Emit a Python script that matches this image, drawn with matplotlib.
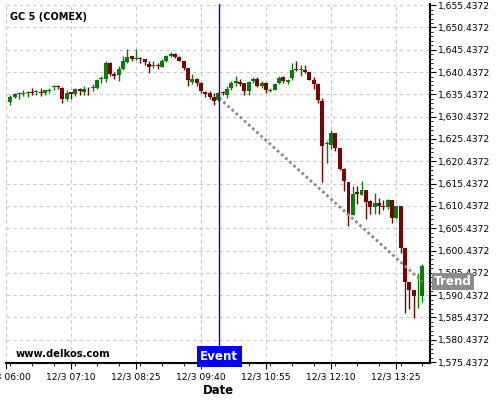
import matplotlib
matplotlib.use("Agg")
import matplotlib.pyplot as plt
from matplotlib.ticker import FixedLocator, MultipleLocator, FuncFormatter
import matplotlib.transforms as mtransforms

title = "GC 5 (COMEX)"
watermark = "www.delkos.com"

opens = [1633.8, 1634.9, 1635.6, 1635.6, 1635.7, 1636.0, 1635.9, 1636.0, 1635.7, 1636.1,
         1637.0, 1637.2, 1636.9, 1634.5, 1636.0, 1635.6, 1636.7, 1636.0, 1636.9, 1636.9,
         1636.9, 1638.8, 1638.8, 1642.5, 1639.9, 1639.7, 1641.2, 1642.7, 1644.0, 1643.4,
         1643.6, 1643.3, 1642.3, 1641.8, 1642.0, 1641.6, 1642.9, 1644.0, 1644.5, 1643.9,
         1642.9, 1641.4, 1638.2, 1638.9, 1638.0, 1636.0, 1635.8, 1634.9, 1634.2, 1636.0,
         1635.4, 1636.9, 1638.0, 1638.3, 1637.9, 1636.2, 1638.4, 1638.9, 1637.3, 1638.0,
         1636.2, 1636.5, 1637.9, 1639.3, 1638.3, 1639.0, 1641.1, 1641.0, 1641.0, 1640.5,
         1638.7, 1637.8, 1634.0, 1624.4, 1624.2, 1626.7, 1623.4, 1618.8, 1615.7, 1608.4,
         1613.5, 1612.8, 1613.9, 1611.5, 1610.2, 1611.1, 1610.3, 1610.2, 1611.7, 1607.8,
         1610.4, 1600.9, 1593.3, 1591.5, 1590.2, 1590.3]
highs = [1635.4, 1635.8, 1635.9, 1636.4, 1636.2, 1636.8, 1636.5, 1636.8, 1636.5, 1636.9,
         1637.5, 1637.6, 1637.0, 1636.5, 1636.0, 1636.9, 1636.9, 1637.4, 1637.0, 1637.7,
         1638.9, 1639.5, 1642.9, 1642.6, 1640.4, 1641.8, 1644.0, 1645.5, 1644.0, 1645.5,
         1643.9, 1643.3, 1642.9, 1642.9, 1642.5, 1643.3, 1644.2, 1644.9, 1644.8, 1644.0,
         1643.0, 1641.4, 1640.1, 1639.1, 1638.1, 1636.3, 1636.2, 1635.8, 1636.0, 1636.1,
         1637.3, 1638.4, 1639.5, 1638.8, 1637.9, 1638.4, 1639.3, 1639.3, 1638.4, 1638.2,
         1636.9, 1638.0, 1639.5, 1639.5, 1638.8, 1642.5, 1642.9, 1642.0, 1642.1, 1640.5,
         1639.3, 1637.9, 1634.7, 1624.9, 1627.4, 1626.7, 1623.4, 1618.9, 1615.9, 1614.8,
         1615.0, 1616.1, 1613.9, 1611.8, 1613.3, 1612.3, 1611.8, 1612.0, 1611.7, 1610.4,
         1610.4, 1601.0, 1593.3, 1591.5, 1595.5, 1597.4]
lows = [1633.0, 1634.7, 1634.5, 1635.0, 1634.9, 1635.4, 1635.4, 1635.1, 1635.2, 1635.8,
        1636.5, 1636.7, 1633.6, 1633.9, 1634.3, 1635.0, 1635.4, 1635.4, 1635.2, 1636.2,
        1636.7, 1638.0, 1638.2, 1639.5, 1638.9, 1638.4, 1641.0, 1642.5, 1642.9, 1643.1,
        1642.5, 1642.1, 1640.3, 1641.4, 1641.2, 1641.5, 1642.7, 1643.9, 1643.5, 1642.9,
        1640.9, 1637.3, 1637.7, 1637.3, 1635.8, 1634.8, 1634.5, 1633.0, 1634.0, 1635.2,
        1634.7, 1636.5, 1637.3, 1637.3, 1635.4, 1635.4, 1638.0, 1637.1, 1636.9, 1635.8,
        1636.0, 1636.4, 1637.7, 1638.0, 1637.7, 1638.7, 1640.7, 1639.6, 1640.3, 1638.6,
        1636.6, 1633.6, 1615.8, 1620.0, 1623.2, 1622.8, 1618.4, 1613.8, 1605.9, 1608.3,
        1610.9, 1612.8, 1607.4, 1608.6, 1608.6, 1608.6, 1609.5, 1609.8, 1606.6, 1607.4,
        1599.9, 1586.4, 1587.3, 1585.3, 1587.6, 1589.0]
closes = [1634.9, 1635.6, 1635.7, 1635.8, 1636.0, 1635.8, 1636.2, 1635.8, 1636.4, 1636.5,
          1637.2, 1637.1, 1634.5, 1635.8, 1635.6, 1636.7, 1636.1, 1636.7, 1636.8, 1637.1,
          1638.6, 1639.2, 1642.5, 1639.9, 1639.5, 1641.2, 1642.9, 1643.9, 1643.4, 1643.5,
          1643.3, 1642.7, 1641.5, 1642.1, 1641.8, 1642.9, 1644.0, 1644.5, 1643.9, 1643.0,
          1641.4, 1638.6, 1638.9, 1638.0, 1636.2, 1635.5, 1634.9, 1633.9, 1635.8, 1635.7,
          1636.7, 1638.0, 1638.4, 1637.8, 1636.2, 1638.3, 1638.9, 1637.3, 1637.9, 1636.5,
          1636.5, 1637.8, 1639.2, 1638.4, 1638.7, 1641.0, 1641.0, 1641.1, 1640.4, 1638.7,
          1637.8, 1634.2, 1623.9, 1624.6, 1626.7, 1623.4, 1618.7, 1616.0, 1608.6, 1613.0,
          1613.0, 1613.9, 1611.3, 1610.2, 1611.1, 1610.4, 1610.2, 1611.7, 1607.8, 1610.4,
          1600.9, 1593.5, 1591.5, 1590.3, 1590.3, 1597.0]

tick_index = [-1, 14, 29, 44, 59, 74, 89]
tick_labels = ["12/3 06:00", "12/3 07:10", "12/3 08:25", "12/3 09:40",
               "12/3 10:55", "12/3 12:10", "12/3 13:25"]

event_index = 48.2
trend_index = [48.2, 95]
trend_values = [1634.6, 1593.5]

y_base = 1575.4372
y_top = 1655.4372

up_color = "#008000"
down_color = "#800000"

fig = plt.figure(figsize=(5, 4), dpi=100)
ax = fig.add_axes([0.012, 0.0925, 0.848, 0.8975])

grid_kw = dict(color="#c8c8c8", linestyle=(0, (3, 3)), linewidth=0.8)
ax.set_axisbelow(True)

# candles
for i, (o, h, l, c) in enumerate(zip(opens, highs, lows, closes)):
    col = up_color if c >= o else down_color
    ax.vlines(i, l, h, color=col, linewidth=1.0, zorder=3)
    bottom = min(o, c)
    height = max(abs(c - o), 0.15)
    ax.bar(i, height, bottom=bottom, width=0.92, color=col, linewidth=0, zorder=4)

# trend line
ax.plot(trend_index, trend_values, color="#8c8c8c", linestyle=(0, (1, 1)),
        linewidth=2.0, zorder=5)

# event line
ax.axvline(event_index, color="#0000ff", linewidth=1.0, zorder=6)

ax.set_xlim(-1, 96.8)
ax.set_ylim(y_base - 0.2, y_top + 0.25)

# y axis on right
ax.yaxis.tick_right()
ax.yaxis.set_major_locator(FixedLocator([y_base + 5 * k for k in range(17)]))
ax.yaxis.set_minor_locator(FixedLocator([y_base + k for k in range(81)]))
ax.yaxis.set_major_formatter(FuncFormatter(lambda v, p: f"{v:,.4f}"))
ax.tick_params(axis="y", which="major", length=4, width=0.8, pad=2, labelsize=6.6,
               right=True, left=False)
ax.tick_params(axis="y", which="minor", length=2, width=0.6, right=True, left=False)

# x axis
ax.xaxis.set_major_locator(FixedLocator(tick_index))
ax.set_xticklabels(tick_labels)
ax.xaxis.set_minor_locator(MultipleLocator(5))
ax.tick_params(axis="x", which="major", length=4, width=0.8, pad=3, labelsize=6.6)
ax.tick_params(axis="x", which="minor", length=2, width=0.6)
ax.set_xlabel("Date", fontsize=8.4, fontweight="bold", labelpad=2)

ax.grid(True, which="major", **grid_kw)

for s in ["top", "left"]:
    ax.spines[s].set_visible(False)
ax.spines["right"].set_linewidth(1.5)
ax.spines["bottom"].set_linewidth(1.5)

# texts
ax.text(0.01, 0.978, title, transform=ax.transAxes, fontsize=7, fontweight="bold",
        ha="left", va="top", zorder=7)
ax.text(0.022, 0.025, watermark, transform=ax.transAxes, fontsize=7.2,
        fontweight="bold", ha="left", va="center", zorder=7)

trans = mtransforms.blended_transform_factory(ax.transData, ax.transAxes)
ax.text(event_index, 0.0, "Event", transform=trans, ha="center", va="bottom",
        fontsize=8.6, fontweight="bold", color="white", zorder=8,
        bbox=dict(boxstyle="square,pad=0.3", facecolor="#0000ff", edgecolor="none"))

ax.annotate("Trend", xy=(1.0, trend_values[-1]),
            xycoords=("axes fraction", "data"), xytext=(3, 0),
            textcoords="offset points", ha="left", va="center",
            fontsize=8.6, fontweight="bold", color="white", zorder=8,
            annotation_clip=False,
            bbox=dict(boxstyle="square,pad=0.15", facecolor="#8c8c8c", edgecolor="none"))

fig.savefig("out.png", dpi=100)
